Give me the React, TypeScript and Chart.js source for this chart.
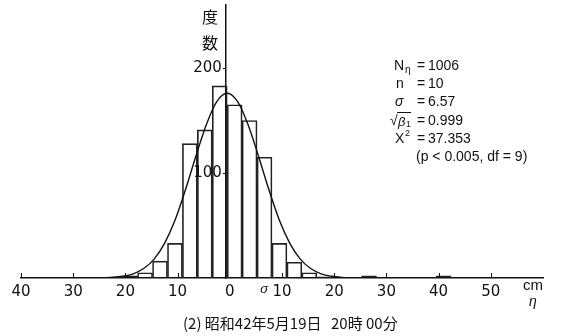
import React, { useEffect, useRef } from "react";
import { Chart, registerables } from "chart.js";

Chart.register(...registerables);

// Histogram bins (cm) and counts
const binCenters = [-21.95, -19.09, -16.23, -13.37, -10.51, -7.65, -4.79, -1.93, 0.93, 3.79, 6.65, 9.51, 12.37, 15.23, 18.09, 26.67, 40.97];
const binCounts = [1, 2, 5, 16, 33, 128, 141, 183, 165, 150, 115, 33, 15, 5, 1, 2, 2];

// Fitted normal curve
const curveX = [-24.5, -22.5, -20.5, -18.5, -16.5, -14.5, -12.5, -10.5, -8.5, -6.5, -4.5, -2.5, -0.5, 1.5, 3.5, 5.5, 7.5, 9.5, 11.5, 13.5, 15.5, 17.5, 19.5, 21.5, 23.5];
const curveY = [0.2, 0.6, 1.7, 4, 9, 18, 33, 55, 84, 116, 146, 168, 176, 168, 146, 116, 84, 55, 33, 18, 9, 4, 1.7, 0.6, 0.2];

const xTickValues = [-40, -30, -20, -10, 0, 10, 20, 30, 40, 50];
const xMarkValues = [-40, -30, -20, -10, 10, 20, 30, 40, 50];
const yTickValues = [100, 200];

const statLabels = ["N", "n", "σ", "β", "X"];
const statValues = ["1006", "10", "6.57", "0.999", "37.353"];
const statNote = "(p < 0.005, df = 9)";
const yTitle = ["度", "数"];
const unitLabel = "cm";
const unitSymbol = "η";
const sigmaMark = "σ";
const caption1 = "(2) 昭和42年5月19日";
const caption2 = "20時 00分";

const INK = "#111";
const SANS = "'Liberation Sans', 'DejaVu Sans', sans-serif";
const CJK = "'Noto Sans CJK JP', sans-serif";

const overlayPlugin = {
  id: "overlay",
  afterDraw(chart: any) {
    const ctx = chart.ctx as CanvasRenderingContext2D;
    const xs = chart.scales.x;
    const ys = chart.scales.y;
    const y0 = ys.getPixelForValue(0);
    const axisX = xs.getPixelForValue(-0.75);
    ctx.save();
    ctx.strokeStyle = INK;
    ctx.fillStyle = INK;
    ctx.lineWidth = 1;
    // small upward tick marks on the x axis
    for (const v of xMarkValues) {
      const px = Math.round(xs.getPixelForValue(v)) + 0.5;
      ctx.beginPath();
      ctx.moveTo(px, y0);
      ctx.lineTo(px, y0 - 5);
      ctx.stroke();
    }
    // y tick labels
    ctx.font = `15px 'DejaVu Sans', sans-serif`;
    ctx.textAlign = "right";
    ctx.textBaseline = "middle";
    for (const v of yTickValues) {
      const py = ys.getPixelForValue(v);
      ctx.fillText(String(v), axisX - 4, py);
      ctx.beginPath();
      ctx.moveTo(axisX - 3, Math.round(py) + 0.5);
      ctx.lineTo(axisX, Math.round(py) + 0.5);
      ctx.stroke();
    }
    // y title
    ctx.font = `16px ${CJK}`;
    ctx.textAlign = "center";
    ctx.fillText(yTitle[0], 210, 17);
    ctx.fillText(yTitle[1], 210, 43);

    // stats block
    const lx = 394;
    const ex = 417;
    const vx = 428;
    const rows = [66, 84, 102, 121, 139];
    ctx.textAlign = "left";
    ctx.textBaseline = "middle";
    ctx.font = `14px ${SANS}`;
    // N_eta
    ctx.fillText(statLabels[0], lx, rows[0]);
    ctx.font = `10px ${SANS}`;
    ctx.fillText(unitSymbol, lx + 11, rows[0] + 4);
    ctx.font = `14px ${SANS}`;
    ctx.fillText(statLabels[1], lx + 2, rows[1]);
    ctx.font = `italic 14px ${SANS}`;
    ctx.fillText(statLabels[2], lx + 1, rows[2]);
    ctx.font = `14px ${SANS}`;
    // sqrt(beta_1)
    ctx.fillText("√", lx - 4, rows[3]);
    ctx.font = `italic 13px ${SANS}`;
    ctx.fillText(statLabels[3], lx + 4, rows[3] + 1);
    ctx.font = `9px ${SANS}`;
    ctx.fillText("1", lx + 12, rows[3] + 4);
    ctx.beginPath();
    ctx.moveTo(lx + 3, rows[3] - 8.5);
    ctx.lineTo(lx + 17, rows[3] - 8.5);
    ctx.stroke();
    ctx.font = `14px ${SANS}`;
    ctx.fillText(statLabels[4], lx + 1, rows[4]);
    ctx.font = `9px ${SANS}`;
    ctx.fillText("2", lx + 11, rows[4] - 5);
    ctx.font = `14px ${SANS}`;
    for (let i = 0; i < rows.length; i++) {
      ctx.fillText("=", ex, rows[i]);
      ctx.fillText(statValues[i], vx, rows[i]);
    }
    ctx.fillText(statNote, 416, 157);

    // unit
    ctx.font = `15px ${SANS}`;
    ctx.textAlign = "center";
    ctx.fillText(unitLabel, 533, 286);
    ctx.font = `italic 14px ${SANS}`;
    ctx.fillText(unitSymbol, 533, 302);
    // sigma marker
    ctx.font = `italic 13px ${SANS}`;
    ctx.fillText(sigmaMark, xs.getPixelForValue(6.57), 289);

    // caption
    ctx.textAlign = "left";
    ctx.font = `15px ${CJK}`;
    ctx.fillText(caption1, 183, 323);
    ctx.fillText(caption2, 331, 323);
    ctx.restore();
  },
};

export default function App() {
  const canvasRef = useRef<HTMLCanvasElement | null>(null);

  useEffect(() => {
    if (!canvasRef.current) return;
    const chart = new Chart(canvasRef.current, {
      type: "bar",
      data: {
        datasets: [
          {
            type: "line",
            data: curveX.map((x, i) => ({ x, y: curveY[i] })),
            borderColor: INK,
            borderWidth: 1.4,
            pointRadius: 0,
            cubicInterpolationMode: "monotone",
            fill: false,
            order: 0,
          } as any,
          {
            type: "bar",
            data: binCenters.map((x, i) => ({ x, y: binCounts[i] })),
            backgroundColor: "rgba(0,0,0,0)",
            borderColor: "#222",
            borderWidth: 1,
            barPercentage: 1,
            categoryPercentage: 1,
            order: 1,
          } as any,
        ],
      },
      options: {
        animation: false,
        responsive: false,
        layout: { padding: { left: 21, right: 19, top: 5, bottom: 30 } },
        plugins: { legend: { display: false }, tooltip: { enabled: false } },
        scales: {
          x: {
            type: "linear",
            min: -40,
            max: 60,
            offset: false,
            grid: { display: false, drawTicks: false, offset: false },
            border: { display: true, color: INK, width: 1.5 },
            afterBuildTicks: (s: any) => {
              s.ticks = xTickValues.map((v) => ({ value: v }));
            },
            ticks: {
              callback: (v: any) => String(Math.abs(Number(v))),
              font: { family: "DejaVu Sans", size: 15 },
              color: INK,
              padding: 5,
              maxRotation: 0,
              autoSkip: false,
            },
          },
          y: {
            type: "linear",
            min: 0,
            max: 260,
            position: { x: -0.75 } as any,
            grid: { display: false, drawTicks: false },
            border: { display: true, color: INK, width: 1.5 },
            afterBuildTicks: (s: any) => {
              s.ticks = yTickValues.map((v) => ({ value: v }));
            },
            ticks: { display: false },
          },
        },
      } as any,
      plugins: [overlayPlugin],
    });
    return () => chart.destroy();
  }, []);

  return (
    <div style={{ position: "fixed", left: 0, top: 0, width: 562, height: 336, background: "#fff" }}>
      <canvas ref={canvasRef} width={562} height={336} style={{ display: "block" }} />
    </div>
  );
}
